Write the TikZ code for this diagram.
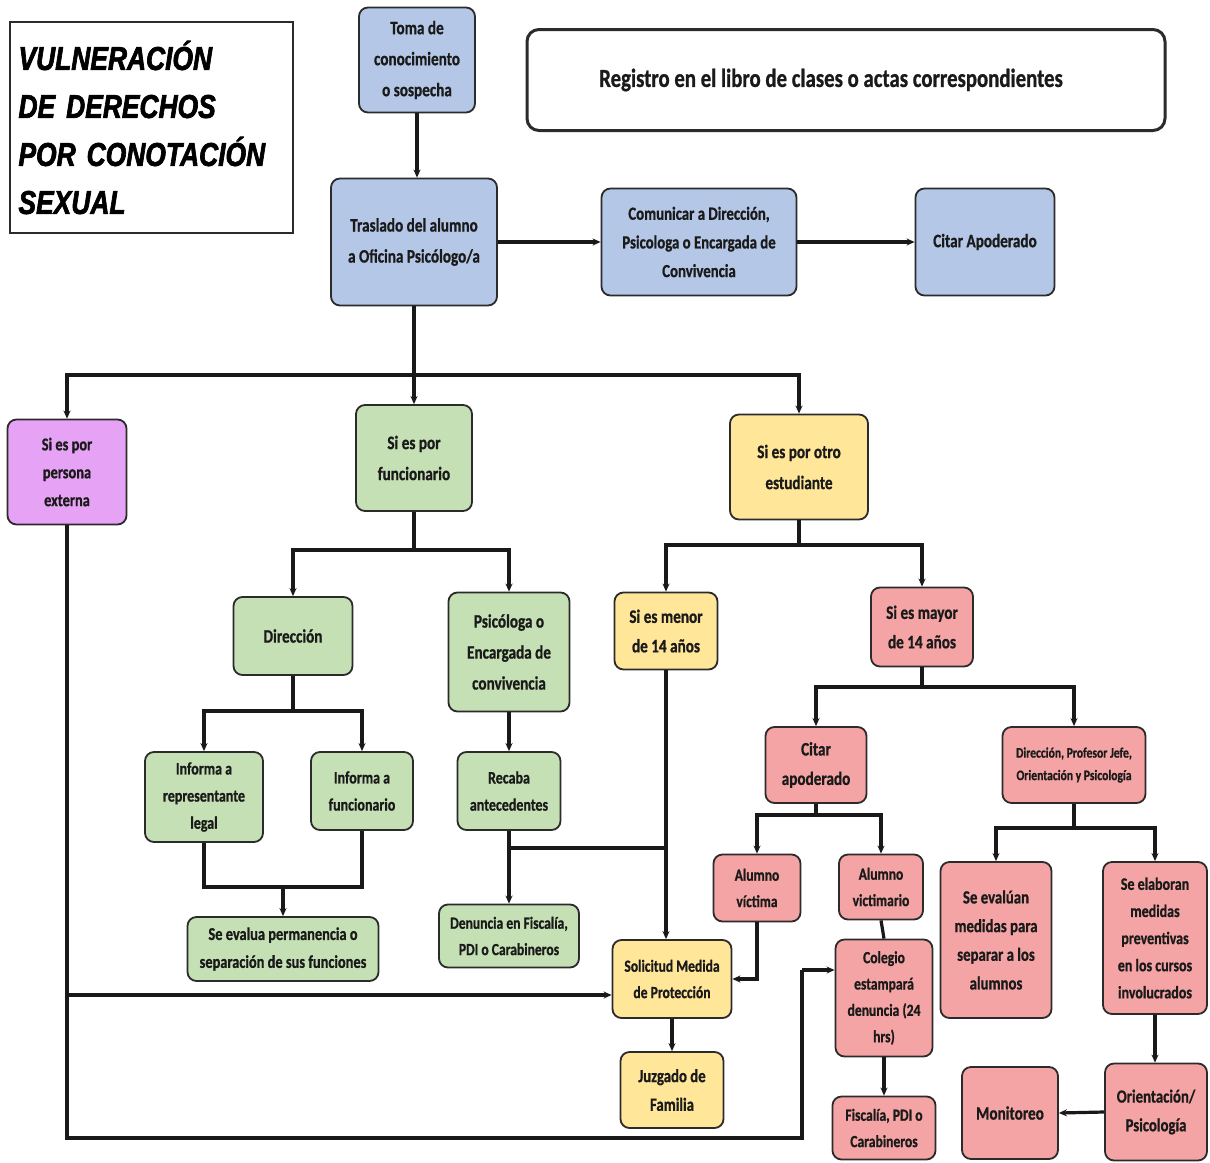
\documentclass[tikz,border=0pt]{standalone}
\usepackage{fontspec}
\usetikzlibrary{arrows.meta}
\newfontfamily\boxfont{Carlito}[FakeStretch=0.8, BoldFont={Carlito Bold}, BoldFeatures={FakeBold=0.8}]
\newfontfamily\titlefont{Liberation Sans}[FakeStretch=0.8, BoldItalicFeatures={FakeBold=2}]
\definecolor{cblue}{HTML}{B4C7E7}
\definecolor{cgreen}{HTML}{C5E0B4}
\definecolor{cyellow}{HTML}{FFE699}
\definecolor{cpink}{HTML}{F4A4A4}
\definecolor{cpurple}{HTML}{E6A3F5}
\definecolor{cborder}{HTML}{2B2B2B}
\definecolor{ctext}{HTML}{1A1A1A}
\tikzset{
  box/.style={draw=cborder, line width=1.8pt, rounded corners=9pt, align=center, inner sep=0pt, text=ctext,
    font=\boxfont\bfseries\fontsize{19}{31}\selectfont},
  fs/.style={font=\boxfont\bfseries\fontsize{#1}{\dimexpr #1pt*155/100\relax}\selectfont},
  lin/.style={line width=3.2pt, draw=black!90},
  arr/.style={lin, -{Stealth[length=8pt,width=7pt]}},
}
\begin{document}
\begin{tikzpicture}[x=1pt,y=-1pt]
\useasboundingbox[fill=white] (0,0) rectangle (1210,1162);

% title
\node[draw=cborder, line width=1.6pt, minimum width=283, minimum height=211, text width=266, align=left, inner xsep=8pt,
  font=\titlefont\bfseries\itshape\fontsize{33}{48}\selectfont] (title) at (151.5,127.5)
  {VULNERACIÓN\\DE DERECHOS\\POR CONOTACIÓN\\SEXUAL};

% top row
\node[box, fill=cblue, minimum width=116, minimum height=105] (toma) at (417,60) {Toma de\\conocimiento\\o sospecha};
\node[box, fill=white, line width=3pt, rounded corners=12pt, minimum width=638, minimum height=101, font=\boxfont\bfseries\fontsize{26}{32}\selectfont] (reg) at (846,80) {Registro en el libro de clases o actas correspondientes\hspace*{30pt}\raisebox{8pt}{}};
\node[box, fill=cblue, minimum width=166, minimum height=127] (tras) at (414,242) {Traslado del alumno\\a Oficina Psicólogo/a};
\node[box, fill=cblue, minimum width=195, minimum height=107, fs=18.5] (com) at (699,242) {Comunicar a Dirección,\\Psicologa o Encargada de\\Convivencia};
\node[box, fill=cblue, minimum width=139, minimum height=107] (cit) at (985,242) {Citar Apoderado};

% second level
\node[box, fill=cpurple, minimum width=119, minimum height=105, fs=18] (ext) at (67,472) {Si es por\\persona\\externa};
\node[box, fill=cgreen, minimum width=116, minimum height=106] (fun) at (414,458) {Si es por\\funcionario};
\node[box, fill=cyellow, minimum width=138, minimum height=105] (otro) at (799,467) {Si es por otro\\estudiante};

% funcionario branch
\node[box, fill=cgreen, minimum width=119, minimum height=78] (dir) at (293,636) {Dirección};
\node[box, fill=cgreen, minimum width=121, minimum height=119] (psi) at (509,652) {Psicóloga o\\Encargada de\\convivencia};
\node[box, fill=cgreen, minimum width=118, minimum height=90, fs=17.5] (inf1) at (204,797) {Informa a\\representante\\legal};
\node[box, fill=cgreen, minimum width=102, minimum height=78, fs=17.5] (inf2) at (362,791) {Informa a\\funcionario};
\node[box, fill=cgreen, minimum width=103, minimum height=78, fs=17.5] (rec) at (509,791) {Recaba\\antecedentes};
\node[box, fill=cgreen, minimum width=191, minimum height=64, fs=18] (sev) at (283,949) {Se evalua permanencia o\\separación de sus funciones};
\node[box, fill=cgreen, minimum width=140, minimum height=63, fs=17] (den) at (509,936) {Denuncia en Fiscalía,\\PDI o Carabineros};

% estudiante branch
\node[box, fill=cyellow, minimum width=103, minimum height=77, fs=19] (men) at (666,631) {Si es menor\\de 14 años};
\node[box, fill=cpink, minimum width=102, minimum height=79, fs=19] (may) at (922,627) {Si es mayor\\de 14 años};
\node[box, fill=cyellow, minimum width=119, minimum height=78, fs=17] (sol) at (672,979) {Solicitud Medida\\de Protección};
\node[box, fill=cyellow, minimum width=103, minimum height=76, fs=18.5] (juz) at (672,1090) {Juzgado de\\Familia};
\node[box, fill=cpink, minimum width=101, minimum height=76, fs=19] (cap) at (816,765) {Citar\\apoderado};
\node[box, fill=cpink, minimum width=143, minimum height=76, fs=14.5] (dpj) at (1074,765) {Dirección, Profesor Jefe,\\Orientación y Psicología};
\node[box, fill=cpink, minimum width=87, minimum height=67, fs=17] (vic) at (757,888) {Alumno\\víctima};
\node[box, fill=cpink, minimum width=84, minimum height=65, fs=17] (vim) at (881,887) {Alumno\\victimario};
\node[box, fill=cpink, minimum width=97, minimum height=117, fs=17] (col) at (884,998) {Colegio\\estampará\\denuncia (24\\hrs)};
\node[box, fill=cpink, minimum width=103, minimum height=63, fs=17] (fis) at (884,1128) {Fiscalía, PDI o\\Carabineros};
\node[box, fill=cpink, minimum width=111, minimum height=156, fs=18.5] (seva) at (996,940) {Se evalúan\\medidas para\\separar a los\\alumnos};
\node[box, fill=cpink, minimum width=104, minimum height=152, fs=17.5] (sela) at (1155,938) {Se elaboran\\medidas\\preventivas\\en los cursos\\involucrados};
\node[box, fill=cpink, minimum width=102, minimum height=97, fs=18.5] (ori) at (1156,1112) {Orientación/\\Psicología};
\node[box, fill=cpink, minimum width=96, minimum height=92, fs=19] (mon) at (1010,1113) {Monitoreo};

% junction coordinates
\coordinate (j1) at (414,375);
\coordinate (j2) at (414,550);
\coordinate (j3) at (293,711);
\coordinate (j4) at (283,887);
\coordinate (j5) at (509,848);
\coordinate (j6) at (799,545);
\coordinate (j7) at (922,687);
\coordinate (j8) at (816,815);
\coordinate (j9) at (1074,828);
\coordinate (e1) at (67,995);
\coordinate (e2) at (67,1138);
\coordinate (e3) at (802,1138);
\coordinate (e4) at (802,970);

% connectors top
\draw[arr] (toma) -- (toma |- tras.north);
\draw[arr] (tras) -- (com);
\draw[arr] (com) -- (cit);
\draw[lin] (tras.south) -- (j1);
\draw[arr] (j1) -| (ext.north);
\draw[arr] (j1) -- (fun.north);
\draw[arr] (j1) -| (otro.north);

% funcionario
\draw[lin] (fun.south) -- (j2);
\draw[arr] (j2) -| (dir.north);
\draw[arr] (j2) -| (psi.north);
\draw[lin] (dir.south) -- (j3);
\draw[arr] (j3) -| (inf1.north);
\draw[arr] (j3) -| (inf2.north);
\draw[lin] (inf1.south) |- (j4) -| (inf2.south);
\draw[arr] (j4) -- (j4 |- sev.north);
\draw[arr] (psi.south) -- (rec.north);
\draw[arr] (rec.south) -- (den.north);
\draw[lin] (j5) -- (j5 -| men.south);

% estudiante
\draw[lin] (otro.south) -- (j6);
\draw[arr] (j6) -| (men.north);
\draw[arr] (j6) -| (may.north);
\draw[arr] (men.south) -- (men.south |- sol.north);
\draw[arr] (sol.south) -- (juz.north);
\draw[lin] (may.south) -- (j7);
\draw[arr] (j7) -| (cap.north);
\draw[arr] (j7) -| (dpj.north);
\draw[lin] (cap.south) -- (j8);
\draw[arr] (j8) -| (vic.north);
\draw[arr] (j8) -| (vim.north);
\draw[arr] (vic.south) |- (sol.east);
\draw[lin] (vim.south) -- (col.north);
\draw[arr] (col.south) -- (fis.north);
\draw[lin] (dpj.south) -- (j9);
\draw[arr] (j9) -| (seva.north);
\draw[arr] (j9) -| (sela.north);
\draw[arr] (sela.south) -- (sela.south |- ori.north);
\draw[arr] (ori.west) -- (mon.east);

% persona externa
\draw[lin] (ext.south) -- (e2) -- (e3) -- (e4);
\draw[arr] (e4) -- (e4 -| col.west);
\draw[arr] (e1) -- (e1 -| sol.west);
\end{tikzpicture}
\end{document}
